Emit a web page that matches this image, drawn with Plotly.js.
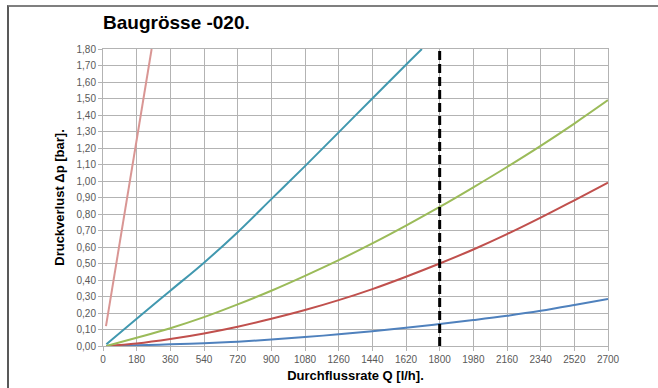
<!DOCTYPE html>
<html>
<head>
<meta charset="utf-8">
<script src="https://cdn.plot.ly/plotly-3.0.1.min.js"></script>
<style>
  html, body { margin: 0; padding: 0; background: #ffffff; width: 658px; height: 388px; overflow: hidden; }
  #frame { position: absolute; left: 7px; top: 5px; width: 700px; height: 500px;
           border-top: 2px solid #7f7f7f; border-left: 2px solid #595959; }
  #chart { position: absolute; left: 0; top: 0; width: 658px; height: 388px; }
</style>
</head>
<body>
<div id="frame"></div>
<div id="chart"></div>
<script>
// Flow rate Q [l/h]
const xTicks = [0, 180, 360, 540, 720, 900, 1080, 1260, 1440, 1620, 1800, 1980, 2160, 2340, 2520, 2700];
const yTicks = [0, 0.1, 0.2, 0.3, 0.4, 0.5, 0.6, 0.7, 0.8, 0.9, 1.0, 1.1, 1.2, 1.3, 1.4, 1.5, 1.6, 1.7, 1.8];

const pinkQ  = [16, 138, 260];
const pinkDp = [0.12, 0.96, 1.80];

const tealQ  = [18, 180, 360, 540, 720, 900, 1080, 1260, 1440, 1620, 1705];
const tealDp = [0.01, 0.165, 0.335, 0.505, 0.69, 0.89, 1.09, 1.295, 1.50, 1.705, 1.80];

const curveQ  = [18, 180, 360, 540, 720, 900, 1080, 1260, 1440, 1620, 1800, 1980, 2160, 2340, 2520, 2700];
const greenDp = [0.0, 0.05, 0.108, 0.175, 0.252, 0.335, 0.425, 0.52, 0.622, 0.73, 0.843, 0.962, 1.085, 1.213, 1.348, 1.49];
const redDp   = [0.0, 0.015, 0.042, 0.076, 0.117, 0.165, 0.218, 0.278, 0.345, 0.42, 0.50, 0.585, 0.678, 0.778, 0.883, 0.99];
const blueDp  = [0.0, 0.004, 0.01, 0.017, 0.026, 0.039, 0.054, 0.071, 0.09, 0.111, 0.133, 0.157, 0.183, 0.213, 0.248, 0.285];

const markerQ  = [1800, 1800];
const markerDp = [0, 1.8];

const lw = 2;
const traces = [
  {x: curveQ, y: blueDp, mode: 'lines', line: {color: '#4F81BD', width: lw, shape: 'spline'}},
  {x: curveQ, y: redDp, mode: 'lines', line: {color: '#C0504D', width: lw, shape: 'spline'}},
  {x: curveQ, y: greenDp, mode: 'lines', line: {color: '#9BBB59', width: lw, shape: 'spline'}},
  {x: tealQ, y: tealDp, mode: 'lines', line: {color: '#4198AF', width: lw, shape: 'spline'}},
  {x: pinkQ, y: pinkDp, mode: 'lines', line: {color: '#D99694', width: lw}},
  {x: markerQ, y: markerDp, mode: 'lines', line: {color: '#000000', width: 3, dash: '9px,4px'}}
];

const font = 'Liberation Sans, Arial, sans-serif';
const layout = {
  width: 658, height: 388,
  margin: {l: 103, r: 50, t: 49, b: 42},
  paper_bgcolor: 'rgba(0,0,0,0)',
  plot_bgcolor: '#ffffff',
  showlegend: false,
  separators: ',.',
  font: {family: font, size: 10, color: '#595959'},
  title: {text: '<b>Baugrösse -020.</b>', font: {family: font, size: 19, color: '#000000'},
          x: 103/658, xanchor: 'left', y: 1 - 22/388, yanchor: 'middle', xref: 'container', yref: 'container'},
  xaxis: {
    range: [0, 2700], tickvals: xTicks, ticktext: xTicks.map(String),
    showgrid: true, gridcolor: '#b3b3b3', gridwidth: 1, zeroline: false,
    showline: true, linecolor: '#b3b3b3', linewidth: 1, mirror: true,
    ticks: 'outside', ticklen: 4, tickcolor: '#b3b3b3',
    tickfont: {family: font, size: 10, color: '#595959'},
    title: {text: '<b>Durchflussrate Q [l/h].</b>', font: {family: font, size: 13, color: '#000000'}, standoff: 6}
  },
  yaxis: {
    range: [0, 1.8], tickvals: yTicks, tickformat: '.2f',
    showgrid: true, gridcolor: '#b3b3b3', gridwidth: 1, zeroline: false,
    showline: true, linecolor: '#b3b3b3', linewidth: 1, mirror: true,
    ticks: 'outside', ticklen: 4, tickcolor: '#b3b3b3',
    tickfont: {family: font, size: 10, color: '#595959'},
    title: {text: '<b>Druckverlust Δp [bar].</b>', font: {family: font, size: 13, color: '#000000'}, standoff: 8}
  }
};

Plotly.newPlot('chart', traces, layout, {displayModeBar: false, staticPlot: true});
</script>
</body>
</html>
